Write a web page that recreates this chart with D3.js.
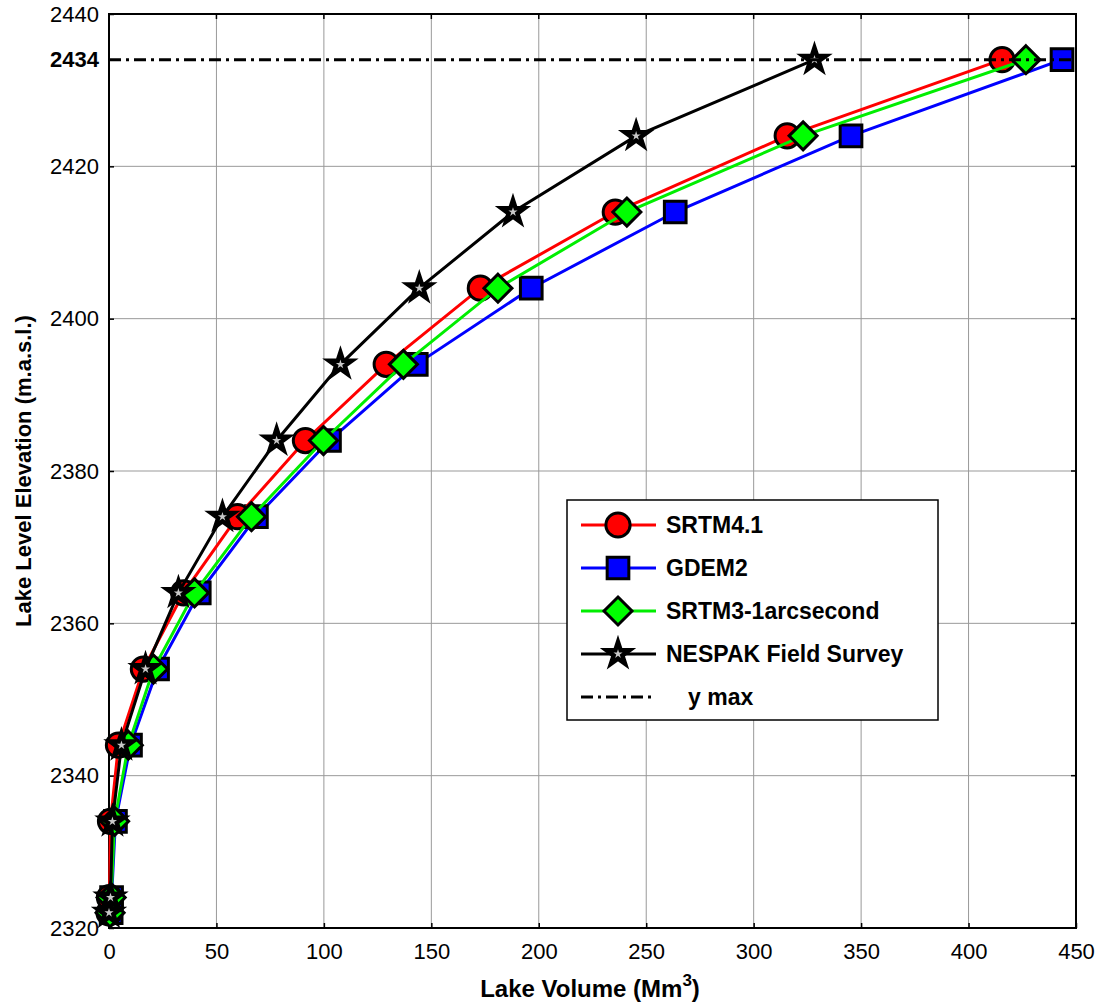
<!DOCTYPE html>
<html>
<head>
<meta charset="utf-8">
<script src="https://cdn.jsdelivr.net/npm/d3@7"></script>
<style>
  body { margin: 0; background: #fff; }
  text { font-family: Arial, "Liberation Sans", sans-serif; }
</style>
</head>
<body>
<svg id="chart" width="1104" height="1005"></svg>
<script>
// lake elevations (m.a.s.l.), shared by all series
const elevations = [2322, 2324, 2334, 2344, 2354, 2364, 2374, 2384, 2394, 2404, 2414, 2424, 2434];

// lake volumes (Mm3)
const srtm41 = [0, 0.2, 0.7, 4.4, 16, 34.7, 59.8, 91.4, 129, 172.8, 235.6, 315.6, 415.6];
const gdem2  = [1, 1.2, 3, 10, 22.6, 42, 68.6, 102.6, 143, 196.5, 263.5, 345.3, 443.5];
const srtm3  = [0.5, 1, 2.6, 9, 20.7, 39.8, 66.3, 99.8, 137, 181, 241, 323, 426.7];
const nespak = [0, 0.7, 1.6, 5.8, 17, 32.3, 52.8, 78, 107.7, 144.4, 188, 245.3, 328.3];

const yMax = 2434;
const xTicks = [0, 50, 100, 150, 200, 250, 300, 350, 400, 450];
const yTicks = [2320, 2340, 2360, 2380, 2400, 2420, 2440];

const svg = d3.select('#chart');
const pLeft = 109, pRight = 1076, pTop = 14, pBottom = 928;

const x = d3.scaleLinear().domain([0, 450]).range([pLeft, pRight]);
const y = d3.scaleLinear().domain([2320, 2440]).range([pBottom, pTop]);

// grid
svg.append('g').selectAll('line')
  .data(xTicks.slice(1, -1))
  .join('line')
  .attr('x1', d => x(d)).attr('x2', d => x(d))
  .attr('y1', pTop).attr('y2', pBottom)
  .attr('stroke', '#999').attr('stroke-width', 1);
svg.append('g').selectAll('line')
  .data(yTicks.slice(1, -1))
  .join('line')
  .attr('x1', pLeft).attr('x2', pRight)
  .attr('y1', d => y(d)).attr('y2', d => y(d))
  .attr('stroke', '#999').attr('stroke-width', 1);

// axes (ticks inside, labels outside)
const xAxis = svg.append('g')
  .attr('transform', `translate(0,${pBottom})`)
  .call(d3.axisBottom(x).tickValues(xTicks).tickFormat(d3.format('d'))
    .tickSizeInner(-5).tickSizeOuter(0).tickPadding(23));
const yAxis = svg.append('g')
  .attr('transform', `translate(${pLeft},0)`)
  .call(d3.axisLeft(y).tickValues(yTicks).tickFormat(d3.format('d'))
    .tickSizeInner(-5).tickSizeOuter(0).tickPadding(10));
[xAxis, yAxis].forEach(a => {
  a.select('.domain').remove();
  a.selectAll('text').attr('font-size', '22px').attr('fill', '#000')
    .attr('font-family', 'Arial, "Liberation Sans", sans-serif');
  a.selectAll('line').attr('stroke', '#000').attr('stroke-width', 1.5);
});
xAxis.selectAll('text').attr('dy', '0.35em');

// mirrored ticks on top/right
svg.append('g').selectAll('line').data(xTicks).join('line')
  .attr('x1', d => x(d)).attr('x2', d => x(d))
  .attr('y1', pTop).attr('y2', pTop + 5).attr('stroke', '#000').attr('stroke-width', 1.5);
svg.append('g').selectAll('line').data(yTicks).join('line')
  .attr('x1', pRight).attr('x2', pRight - 5)
  .attr('y1', d => y(d)).attr('y2', d => y(d)).attr('stroke', '#000').attr('stroke-width', 1.5);

// extra bold tick label for y max
yAxis.append('text')
  .attr('x', -10).attr('y', y(yMax)).attr('dy', '0.32em')
  .attr('text-anchor', 'end').attr('font-size', '22px').attr('font-weight', 'bold')
  .attr('fill', '#000').text(yMax);

// box
svg.append('rect')
  .attr('x', pLeft).attr('y', pTop).attr('width', pRight - pLeft).attr('height', pBottom - pTop)
  .attr('fill', 'none').attr('stroke', '#000').attr('stroke-width', 2);

// markers
const circleSym = d3.symbol(d3.symbolCircle, 460);
const squareSym = d3.symbol(d3.symbolSquare, 470);
const diamondPath = r => `M0,${-r}L${r},0L0,${r}L${-r},0Z`;
const starBig = d3.symbol(d3.symbolStar, 230);
const starSmall = d3.symbol(d3.symbolStar, 26);

const series = [
  { name: 'GDEM2', vals: gdem2, color: '#0000ff', fill: '#0000ff', path: () => squareSym() },
  { name: 'SRTM4.1', vals: srtm41, color: '#ff0000', fill: '#ff0000', path: () => circleSym() },
  { name: 'SRTM3-1arcsecond', vals: srtm3, color: '#00ee00', fill: '#00ff00', path: () => diamondPath(14) },
  { name: 'NESPAK Field Survey', vals: nespak, color: '#000000', fill: '#000', path: () => starBig(), star: true }
];

const line = d3.line().x(d => x(d[0])).y(d => y(d[1]));

// marker drawing shared by plot and legend
const drawMarker = (g, s) => {
  g.append('path')
    .attr('d', s.path())
    .attr('fill', s.fill).attr('stroke', '#000').attr('stroke-width', 3);
  if (s.star) {
    g.append('path').attr('d', starSmall()).attr('fill', '#c8c8c8');
  }
};

series.forEach(s => {
  const pts = s.vals.map((v, i) => [v, elevations[i]]);
  svg.append('path')
    .datum(pts)
    .attr('d', line)
    .attr('fill', 'none').attr('stroke', s.color).attr('stroke-width', 3);
  svg.append('g').selectAll('g')
    .data(pts)
    .join('g')
    .attr('transform', d => `translate(${x(d[0])},${y(d[1])})`)
    .each(function() { drawMarker(d3.select(this), s); });
});

// y max line
svg.append('line')
  .attr('x1', pLeft).attr('x2', pRight)
  .attr('y1', y(yMax)).attr('y2', y(yMax))
  .attr('stroke', '#000').attr('stroke-width', 3)
  .attr('stroke-dasharray', '12,5,3,5');

// legend
const legend = svg.append('g').attr('transform', 'translate(567,500)');
legend.append('rect')
  .attr('width', 371).attr('height', 220)
  .attr('fill', '#fff').attr('stroke', '#000').attr('stroke-width', 1.5);

const legendItems = [
  series[1], series[0], series[2], series[3],
  { name: 'y max', color: '#000', dash: true }
];
const rows = legend.selectAll('g.item')
  .data(legendItems)
  .join('g')
  .attr('class', 'item')
  .attr('transform', (d, i) => `translate(0,${25 + i * 43})`);

rows.append('line')
  .attr('x1', 14).attr('x2', 89).attr('y1', 0).attr('y2', 0)
  .attr('stroke', d => d.color).attr('stroke-width', 3)
  .attr('stroke-dasharray', d => d.dash ? '12,5,3,5' : null);
rows.filter(d => !d.dash).append('g')
  .attr('transform', 'translate(51,0)')
  .each(function(d) { drawMarker(d3.select(this), d); });
rows.append('text')
  .attr('x', d => d.dash ? 121 : 99)
  .attr('dy', '0.36em')
  .attr('font-size', '23px').attr('font-weight', 'bold')
  .attr('fill', '#000')
  .text(d => d.name);

// axis titles
const xt = svg.append('text')
  .attr('x', 590).attr('y', 997)
  .attr('text-anchor', 'middle').attr('font-size', '24px').attr('font-weight', 'bold');
xt.append('tspan').text('Lake Volume (Mm');
xt.append('tspan').attr('dy', -11).attr('font-size', '17px').text('3');
xt.append('tspan').attr('dy', 11).text(')');

svg.append('text')
  .attr('transform', `translate(31,${(pTop + pBottom) / 2}) rotate(-90)`)
  .attr('text-anchor', 'middle').attr('font-size', '22px').attr('font-weight', 'bold')
  .text('Lake Level Elevation (m.a.s.l.)');
</script>
</body>
</html>
